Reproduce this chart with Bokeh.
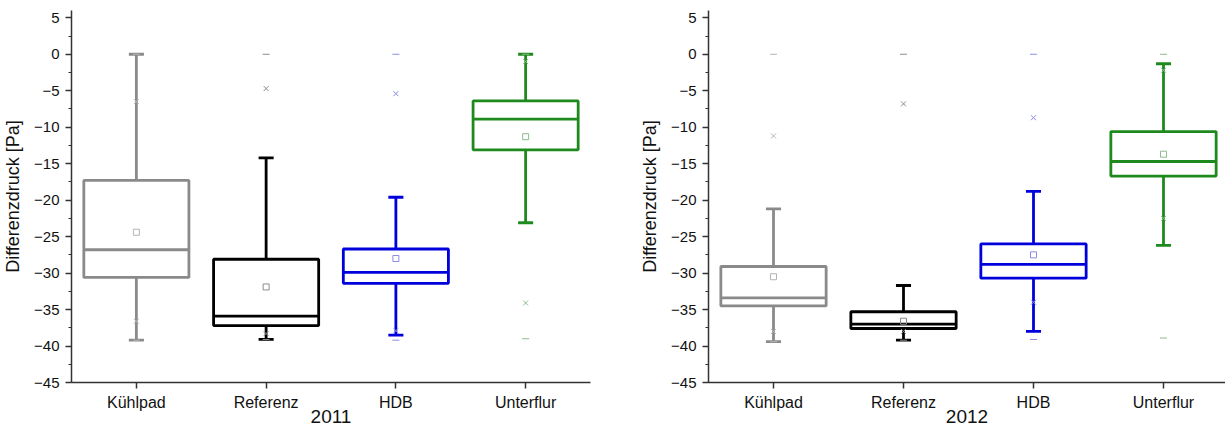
from bokeh.plotting import figure
from bokeh.layouts import row
from bokeh.models import FixedTicker, SingleIntervalTicker, Range1d
from bokeh.embed import file_html
from bokeh.resources import INLINE

categories = ["Kühlpad", "Referenz", "HDB", "Unterflur"]
colors = ["#8a8a8a", "#000000", "#0000dc", "#1e8a1e"]
light = ["#b4b4b4", "#8c8c8c", "#8c8ce6", "#8cbc8c"]

# 2011
q1_2011 = [-30.6, -37.2, -31.4, -13.1]
q3_2011 = [-17.3, -28.1, -26.7, -6.4]
med_2011 = [-26.8, -35.9, -29.9, -8.9]
wlo_2011 = [-39.2, -39.1, -38.5, -23.1]
whi_2011 = [0.0, -14.2, -19.6, 0.0]
mean_2011 = [-24.4, -31.9, -28.0, -11.3]
p99_2011 = [-6.5, -4.7, -5.4, -1.0]
p1_2011 = [-36.6, -38.3, -37.9, -34.1]
max_2011 = [0.0, 0.0, 0.0, 0.0]
min_2011 = [-39.2, -39.1, -39.2, -39.0]

# 2012
q1_2012 = [-34.5, -37.6, -30.7, -16.7]
q3_2012 = [-29.1, -35.3, -26.0, -10.6]
med_2012 = [-33.4, -37.0, -28.8, -14.7]
wlo_2012 = [-39.4, -39.2, -38.0, -26.2]
whi_2012 = [-21.2, -31.7, -18.8, -1.3]
mean_2012 = [-30.5, -36.6, -27.5, -13.7]
p99_2012 = [-11.2, -6.8, -8.7, -2.2]
p1_2012 = [-38.0, -38.0, -34.0, -22.5]
max_2012 = [0.0, 0.0, 0.0, 0.0]
min_2012 = [-39.4, -39.2, -39.1, -38.9]

xs = [1, 2, 3, 4]
BOX_HW = 0.405
CAP_HW = 0.058


def make(year, q1, q3, med, wlo, whi, mean, p99, p1, mx, mn,
         width, border_left, border_right, x_end):
    p = figure(width=width, height=426, output_backend="svg", toolbar_location=None,
               x_range=Range1d(0.5, x_end), y_range=Range1d(-45, 6),
               min_border_left=border_left, min_border_right=border_right,
               min_border_top=10, min_border_bottom=44)
    p.xgrid.visible = False
    p.ygrid.visible = False
    p.outline_line_color = None
    p.background_fill_color = "white"

    for i, x in enumerate(xs):
        c = colors[i]
        lc = light[i]
        p.segment([x, x], [q3[i], q1[i]], [x, x], [whi[i], wlo[i]], line_color=c, line_width=2.8)
        p.segment([x - CAP_HW, x - CAP_HW], [whi[i], wlo[i]], [x + CAP_HW, x + CAP_HW], [whi[i], wlo[i]],
                  line_color=c, line_width=2.8)
        p.quad(left=[x - BOX_HW], right=[x + BOX_HW], bottom=[q1[i]], top=[q3[i]],
               fill_color="white", line_color=c, line_width=2.8)
        p.segment([x - BOX_HW], [med[i]], [x + BOX_HW], [med[i]], line_color=c, line_width=2.8)
        p.scatter([x], [mean[i]], marker="square", size=6, fill_color=None, line_color=lc, line_width=1)
        p.scatter([x, x], [p99[i], p1[i]], marker="x", size=7, line_color=lc, line_width=1)
        p.scatter([x, x], [mx[i], mn[i]], marker="dash", size=7, line_color=lc, line_width=1)

    p.xaxis.ticker = FixedTicker(ticks=xs, minor_ticks=[])
    p.xaxis.major_label_overrides = {x: c for x, c in zip(xs, categories)}
    p.xaxis.axis_label = year
    p.yaxis.axis_label = "Differenzdruck [Pa]"
    p.yaxis.ticker = SingleIntervalTicker(interval=5, num_minor_ticks=2)

    for ax in (p.xaxis[0], p.yaxis[0]):
        ax.axis_line_color = "#333333"
        ax.axis_line_width = 1.5
        ax.major_tick_line_color = "#333333"
        ax.major_tick_line_width = 1.5
        ax.minor_tick_line_color = "#333333"
        ax.minor_tick_line_width = 1.2
        ax.major_tick_in = 0
        ax.major_tick_out = 6
        ax.minor_tick_in = 0
        ax.minor_tick_out = 3
        ax.major_label_text_font = "Liberation Sans"
        ax.axis_label_text_font = "Liberation Sans"
        ax.axis_label_text_font_style = "normal"
        ax.major_label_text_color = "#111111"
        ax.axis_label_text_color = "#111111"

    p.yaxis.major_label_text_font_size = "15px"
    p.xaxis.major_label_text_font_size = "16px"
    p.yaxis.axis_label_text_font_size = "18px"
    p.xaxis.axis_label_text_font_size = "19px"
    p.yaxis.major_label_standoff = 6
    p.yaxis.axis_label_standoff = 8
    p.xaxis.major_label_standoff = 5
    p.xaxis.axis_label_standoff = -4
    return p


p1 = make("2011", q1_2011, q3_2011, med_2011, wlo_2011, whi_2011, mean_2011, p99_2011, p1_2011,
          max_2011, min_2011, width=600, border_left=70, border_right=10, x_end=4.5)
p2 = make("2012", q1_2012, q3_2012, med_2012, wlo_2012, whi_2012, mean_2012, p99_2012, p1_2012,
          max_2012, min_2012, width=625, border_left=108, border_right=0, x_end=0.5 + 517 / 130)

layout = row(p1, p2, spacing=0)
open("out.html", "w").write(file_html(layout, INLINE))
